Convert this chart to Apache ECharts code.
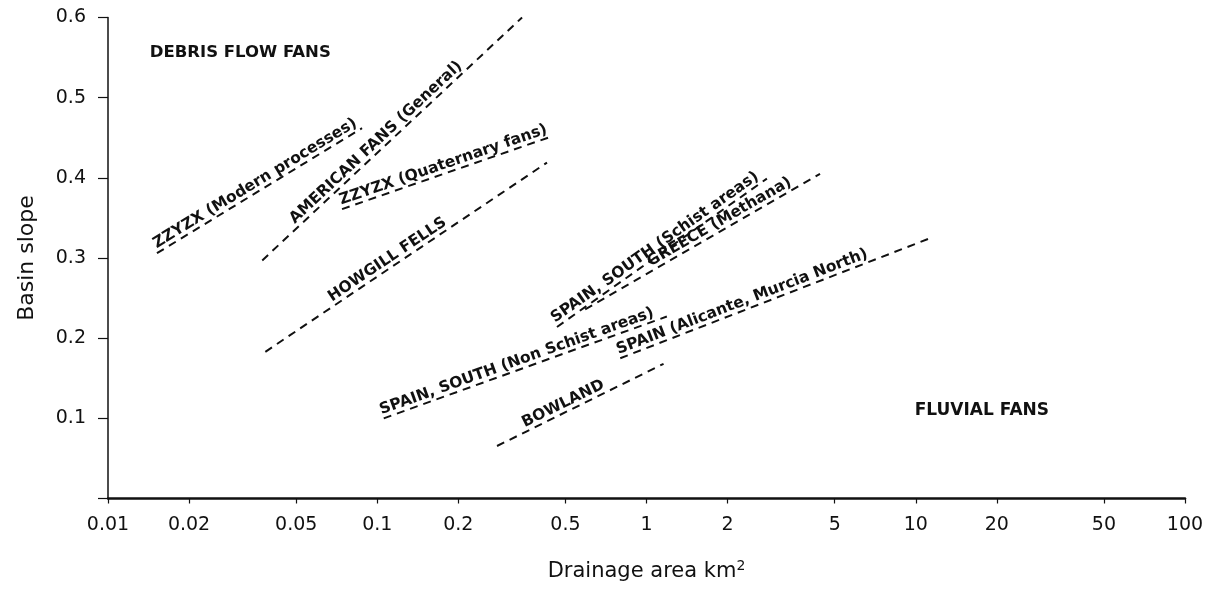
<!DOCTYPE html>
<html><head><meta charset="utf-8">
<script src="https://cdn.jsdelivr.net/npm/echarts@6/dist/echarts.min.js"></script>
<style>html,body{margin:0;background:#fff}#c{width:1212px;height:595px}</style>
</head><body><div id="c"></div>
<script>
// ---- data (drainage area km², basin slope) ----
const xTickValues = [0.01, 0.02, 0.05, 0.1, 0.2, 0.5, 1, 2, 5, 10, 20, 50, 100];
const yTickValues = [0.1, 0.2, 0.3, 0.4, 0.5, 0.6];

const zzyzxModernArea  = [0.0152, 0.0878];
const zzyzxModernSlope = [0.306, 0.462];
const americanArea     = [0.0374, 0.345];
const americanSlope    = [0.297, 0.600];
const zzyzxQuatArea    = [0.074, 0.439];
const zzyzxQuatSlope   = [0.361, 0.451];
const howgillArea      = [0.0384, 0.427];
const howgillSlope     = [0.183, 0.419];
const spainSchistArea  = [0.465, 2.80];
const spainSchistSlope = [0.214, 0.399];
const greeceArea       = [0.592, 4.41];
const greeceSlope      = [0.236, 0.405];
const spainNonArea     = [0.1057, 1.19];
const spainNonSlope    = [0.100, 0.227];
const alicanteArea     = [0.799, 11.17];
const alicanteSlope    = [0.175, 0.324];
const bowlandArea      = [0.2785, 1.157];
const bowlandSlope     = [0.0655, 0.168];

const lineNames = ['ZZYZX (Modern processes)', 'AMERICAN FANS (General)', 'ZZYZX (Quaternary fans)',
  'HOWGILL FELLS', 'SPAIN, SOUTH (Schist areas)', 'GREECE (Methana)',
  'SPAIN, SOUTH (Non Schist areas)', 'SPAIN (Alicante, Murcia North)', 'BOWLAND'];
const lineAreas  = [zzyzxModernArea, americanArea, zzyzxQuatArea, howgillArea, spainSchistArea, greeceArea, spainNonArea, alicanteArea, bowlandArea];
const lineSlopes = [zzyzxModernSlope, americanSlope, zzyzxQuatSlope, howgillSlope, spainSchistSlope, greeceSlope, spainNonSlope, alicanteSlope, bowlandSlope];

const regionNames = ['DEBRIS FLOW FANS', 'FLUVIAL FANS'];
const regionArea  = [0.031, 17.6];
const regionSlope = [0.556, 0.1095];

// ---- label placement (style, not data) ----
const labelFraction = [0.5, 0.46, 0.5, 0.45, 0.49, 0.59, 0.48, 0.405, 0.42];
const labelGap = 0.5;

const FONT = '"DejaVu Sans", "Liberation Sans", Arial, sans-serif';
const INK = '#111';

const chart = echarts.init(document.getElementById('c'), null, {renderer: 'canvas'});

const series = lineNames.map((n, i) => ({
  name: n,
  type: 'line',
  data: lineAreas[i].map((a, k) => [a, lineSlopes[i][k]]),
  symbol: 'none',
  silent: true,
  lineStyle: {color: INK, width: 2, type: [8, 6]}
}));

chart.setOption({
  animation: false,
  backgroundColor: '#fff',
  grid: {left: 108, right: 27, top: 17.5, bottom: 96.5, containLabel: false},
  xAxis: {
    type: 'log', logBase: 10, min: 0.01, max: 100,
    name: 'Drainage area km{sup|2}',
    nameLocation: 'middle', nameGap: 61,
    nameTextStyle: {fontFamily: FONT, fontSize: 21, color: INK,
      rich: {sup: {fontFamily: FONT, fontSize: 14, color: INK, verticalAlign: 'top', padding: [0, 0, 10, 0]}}},
    axisLine: {lineStyle: {color: INK, width: 2.5}},
    axisTick: {show: true, inside: false, length: 5, customValues: xTickValues, lineStyle: {color: INK, width: 1.2}},
    minorTick: {show: false},
    axisLabel: {customValues: xTickValues, margin: 17, fontFamily: FONT, fontSize: 19, color: INK,
      formatter: v => String(v)},
    splitLine: {show: false}
  },
  yAxis: {
    type: 'value', min: 0, max: 0.6, interval: 0.1,
    name: 'Basin slope', nameLocation: 'middle', nameGap: 70, nameRotate: 90,
    nameTextStyle: {fontFamily: FONT, fontSize: 22, color: INK},
    axisLine: {show: true, lineStyle: {color: INK, width: 1.5}},
    axisTick: {show: true, inside: false, length: 10, lineStyle: {color: INK, width: 1.2}},
    axisLabel: {margin: 22, fontFamily: FONT, fontSize: 19, color: INK,
      formatter: v => (yTickValues.some(t => Math.abs(t - v) < 1e-9) ? v.toFixed(1) : '')},
    splitLine: {show: false}
  },
  series: series
});

// labels along the lines, placed through the chart's own coordinate conversion
const graphics = [];
lineNames.forEach((n, i) => {
  const a = lineAreas[i], s = lineSlopes[i];
  const p0 = chart.convertToPixel({gridIndex: 0}, [a[0], s[0]]);
  const p1 = chart.convertToPixel({gridIndex: 0}, [a[a.length - 1], s[s.length - 1]]);
  const dx = p1[0] - p0[0], dy = p1[1] - p0[1];
  const len = Math.hypot(dx, dy);
  const t = labelFraction[i];
  const nx = dy / len, ny = -dx / len;
  const px = p0[0] + dx * t + nx * labelGap;
  const py = p0[1] + dy * t + ny * labelGap;
  graphics.push({
    type: 'text', x: px, y: py, rotation: Math.atan2(-dy, dx), silent: true,
    style: {text: n, font: 'bold 15.5px ' + FONT, fill: INK, align: 'center', verticalAlign: 'bottom'}
  });
});
const regionFont = ['bold 16.5px ', 'bold 17px '];
regionNames.forEach((n, i) => {
  const p = chart.convertToPixel({gridIndex: 0}, [regionArea[i], regionSlope[i]]);
  graphics.push({
    type: 'text', x: p[0], y: p[1], silent: true,
    style: {text: n, font: regionFont[i] + FONT, fill: INK, align: 'center', verticalAlign: 'middle'}
  });
});
chart.setOption({graphic: graphics});
</script>
</body></html>
